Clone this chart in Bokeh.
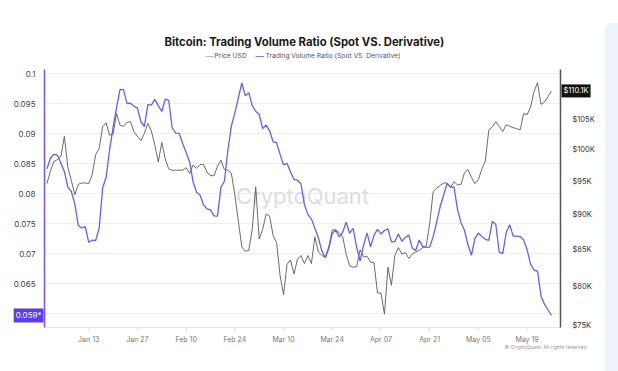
import pandas as pd
from bokeh.plotting import figure
from bokeh.models import (Range1d, LogScale, LogAxis, FixedTicker, CustomJSTickFormatter,
                          PrintfTickFormatter, DatetimeTickFormatter, Label, Div)
from bokeh.layouts import row
from bokeh.embed import file_html
from bokeh.resources import INLINE

# ---------------- data (daily, 2025-01-01 .. 2025-05-26) ----------------
start_date = "2025-01-01"
ratio = [0.08416, 0.08598, 0.08659, 0.08643, 0.08511, 0.08373, 0.08110, 0.08038, 0.07833, 0.07473,
         0.07430, 0.07453, 0.07192, 0.07226, 0.07222, 0.07427, 0.08096, 0.08276, 0.08734, 0.09103,
         0.09436, 0.09740, 0.09737, 0.09502, 0.09510, 0.09460, 0.09428, 0.09201, 0.09122, 0.09488,
         0.09479, 0.09574, 0.09470, 0.09372, 0.09580, 0.09559, 0.09097, 0.09012, 0.09008, 0.08840,
         0.08687, 0.08535, 0.08198, 0.08026, 0.07979, 0.07817, 0.07749, 0.07732, 0.07632, 0.07627,
         0.08108, 0.08210, 0.08730, 0.09131, 0.09346, 0.09598, 0.09847, 0.09636, 0.09686, 0.09469,
         0.09376, 0.09322, 0.09087, 0.09146, 0.09050, 0.08865, 0.08852, 0.08657, 0.08483, 0.08508,
         0.08363, 0.08240, 0.08227, 0.08168, 0.07820, 0.07653, 0.07582, 0.07425, 0.07268, 0.07049,
         0.06933, 0.07085, 0.07339, 0.07398, 0.07281, 0.07359, 0.07529, 0.07343, 0.07426, 0.07109,
         0.06880, 0.07146, 0.07349, 0.07114, 0.07311, 0.07408, 0.07331, 0.07388, 0.07415, 0.07200,
         0.07205, 0.07328, 0.07209, 0.07273, 0.07311, 0.07094, 0.07054, 0.07230, 0.07123, 0.07107,
         0.07111, 0.07285, 0.07528, 0.07784, 0.07977, 0.08174, 0.08113, 0.08117, 0.07738, 0.07519,
         0.07393, 0.07150, 0.06976, 0.07256, 0.07346, 0.07286, 0.07242, 0.07222, 0.07542, 0.07489,
         0.07022, 0.07002, 0.07355, 0.07486, 0.07294, 0.07294, 0.07288, 0.07232, 0.07069, 0.06828,
         0.06730, 0.06712, 0.06294, 0.06161, 0.06068, 0.05972]
price_k = [94.6, 96.6, 98.1, 98.4, 98.9, 102.2, 97.2, 95.1, 92.9, 94.5,
           94.7, 94.7, 94.6, 96.0, 99.2, 100.2, 103.8, 104.5, 102.4, 102.6,
           106.1, 104.1, 103.9, 104.6, 104.7, 103.0, 102.2, 101.5, 102.7, 104.4,
           103.1, 100.8, 98.0, 101.2, 98.5, 96.9, 96.7, 96.7, 96.7, 96.7,
           97.1, 96.2, 97.5, 97.0, 97.6, 97.6, 96.4, 95.9, 95.8, 97.3,
           98.3, 96.8, 96.7, 96.2, 92.9, 89.0, 85.3, 84.7, 84.8, 87.8,
           94.1, 86.4, 87.8, 90.0, 89.7, 86.9, 85.9, 81.4, 78.9, 82.9,
           83.5, 81.6, 83.6, 84.1, 83.0, 84.1, 83.0, 86.7, 84.6, 84.1,
           83.9, 85.3, 87.7, 87.7, 87.3, 86.7, 84.3, 82.7, 82.5, 82.6,
           84.9, 83.9, 84.0, 83.2, 83.1, 79.1, 79.1, 76.4, 82.5, 80.1,
           84.1, 85.2, 84.3, 84.5, 83.7, 84.3, 84.6, 84.8, 85.2, 85.4,
           88.6, 93.4, 93.9, 94.3, 94.7, 94.7, 94.0, 94.9, 94.4, 94.5,
           96.3, 96.8, 95.6, 94.6, 95.2, 96.9, 98.2, 103.3, 103.8, 104.7,
           103.9, 103.0, 104.2, 103.9, 103.7, 103.5, 103.3, 106.1, 105.9, 107.2,
           110.0, 111.6, 107.7, 108.1, 109.1, 110.1]
ratio_ticks = [0.06, 0.065, 0.07, 0.075, 0.08, 0.085, 0.09, 0.095, 0.1]
price_ticks = [75, 80, 85, 90, 95, 100, 105]
date_ticks = ["2025-01-13", "2025-01-27", "2025-02-10", "2025-02-24", "2025-03-10",
              "2025-03-24", "2025-04-07", "2025-04-21", "2025-05-05", "2025-05-19"]
title = "Bitcoin: Trading Volume Ratio (Spot VS. Derivative)"
name_price = "Price USD"
name_ratio = "Trading Volume Ratio (Spot VS. Derivative)"
last_ratio_label = "0.059*"
last_price_label = "$110.1K"
copyright_text = "© CryptoQuant. All rights reserved"

# ---------------- styling ----------------
BLUE = "#6B5CF2"
GRAY = "#5a5a5a"
FONT = "Inter"

dates = pd.date_range(start_date, periods=len(ratio), freq="D")
t0 = pd.Timestamp(start_date)
x_start = (t0 - pd.Timedelta(hours=17)).value / 1e6
x_end = (t0 + pd.Timedelta(hours=147.6 * 24)).value / 1e6
Y0, Y1 = 0.057717, 0.10072
P0, P1 = 74.755, 114.03

# frame position on the page (px)
FL, FT, FW, FH = 44, 69, 516, 258

def PX(px):
    return x_start + (px - FL) / FW * (x_end - x_start)

def PY(py):
    return Y1 - (py - FT) / FH * (Y1 - Y0)

p = figure(frame_width=FW, frame_height=FH, min_border_left=FL, min_border_right=40,
           min_border_top=FT, min_border_bottom=44, x_axis_type="datetime",
           output_backend="svg", toolbar_location=None,
           x_range=Range1d(x_start, x_end), y_range=Range1d(Y0, Y1),
           background_fill_color="white", border_fill_color="white")
p.outline_line_color = None
p.extra_y_ranges = {"price": Range1d(P0, P1)}
p.extra_y_scales = {"price": LogScale()}

# watermark
p.add_layout(Label(x=PX(302), y=PY(195), text="CryptoQuant", text_align="center",
                   text_baseline="middle", text_font=FONT, text_font_size="22px",
                   text_color="#dcdce3", level="underlay"))

p.line(dates, price_k, y_range_name="price", line_color=GRAY, line_width=0.9)
p.line(dates, ratio, line_color=BLUE, line_width=1.3)

# axes
p.xgrid.grid_line_color = None
p.ygrid.grid_line_color = "#efefef"
p.ygrid.ticker = FixedTicker(ticks=ratio_ticks)

ya = p.yaxis[0]
ya.ticker = FixedTicker(ticks=ratio_ticks)
ya.formatter = CustomJSTickFormatter(code="return String(Math.round(tick*1000)/1000)")
ya.axis_line_color = BLUE
ya.axis_line_width = 1.5
ya.major_tick_line_color = None
ya.minor_tick_line_color = None
ya.major_label_standoff = 3
ya.major_label_text_font = FONT
ya.major_label_text_font_size = "8px"
ya.major_label_text_color = "#444444"

xa = p.xaxis[0]
xa.ticker = FixedTicker(ticks=[pd.Timestamp(d).value / 1e6 for d in date_ticks])
xa.formatter = DatetimeTickFormatter(days="%b %d", months="%b %d")
xa.axis_line_color = "#e4e4e4"
xa.major_tick_line_color = "#dddddd"
xa.major_tick_in = 0
xa.major_tick_out = 3
xa.minor_tick_line_color = None
xa.major_label_standoff = 4
xa.major_label_text_font = FONT
xa.major_label_text_font_size = "7px"
xa.major_label_text_color = "#777777"

ra = LogAxis(y_range_name="price", ticker=FixedTicker(ticks=price_ticks),
             formatter=PrintfTickFormatter(format="$%dK"))
ra.axis_line_color = "#555555"
ra.axis_line_width = 1.5
ra.major_tick_line_color = None
ra.minor_tick_line_color = None
ra.major_label_standoff = 6
ra.major_label_text_font = FONT
ra.major_label_text_font_size = "7.5px"
ra.major_label_text_color = "#333333"
p.add_layout(ra, "right")

# texts outside the frame live in side panels (not clipped), positioned in data units
p.add_layout(Label(x=PX(304), y=PY(41), text=title, text_align="center",
                   text_baseline="middle", text_font=FONT, text_font_size="11.3px",
                   text_font_style="bold", text_color="#1a1a1a"), "above")
legend_y = PY(55)
p.add_layout(Label(x=PX(205), y=legend_y, text="—", text_baseline="middle",
                   text_font=FONT, text_font_size="8.5px", text_color="#b0b0b0"), "above")
p.add_layout(Label(x=PX(214), y=legend_y, text=name_price, text_baseline="middle",
                   text_font=FONT, text_font_size="6.7px", text_color="#555555"), "above")
p.add_layout(Label(x=PX(255), y=legend_y, text="—", text_baseline="middle",
                   text_font=FONT, text_font_size="8.5px", text_color=BLUE), "above")
p.add_layout(Label(x=PX(265), y=legend_y, text=name_ratio, text_baseline="middle",
                   text_font=FONT, text_font_size="6.7px", text_color="#555555"), "above")
p.add_layout(Label(x=PX(43), y=ratio[-1], text=last_ratio_label, text_align="right",
                   text_baseline="middle", text_font=FONT, text_font_size="8px",
                   text_color="white", background_fill_color="#5B3CF0",
                   padding=2), "above")

p.add_layout(Label(x=PX(561), y=price_k[-1], y_range_name="price", text=last_price_label,
                   text_align="left", text_baseline="middle", text_font=FONT,
                   text_font_size="7.5px", text_color="white",
                   background_fill_color="#111111", padding=2), "below")
p.add_layout(Label(x=PX(586), y=PY(346), text=copyright_text,
                   text_align="right", text_baseline="middle", text_font=FONT,
                   text_font_size="5px", text_color="#999999"), "below")

panel = Div(text="", width=18, height=348,
            styles={"background-color": "#EEF2FA", "border-radius": "7px 0 0 0",
                    "margin-top": "23px"})
layout = row(p, panel)
open("out.html", "w").write(file_html(layout, INLINE))
